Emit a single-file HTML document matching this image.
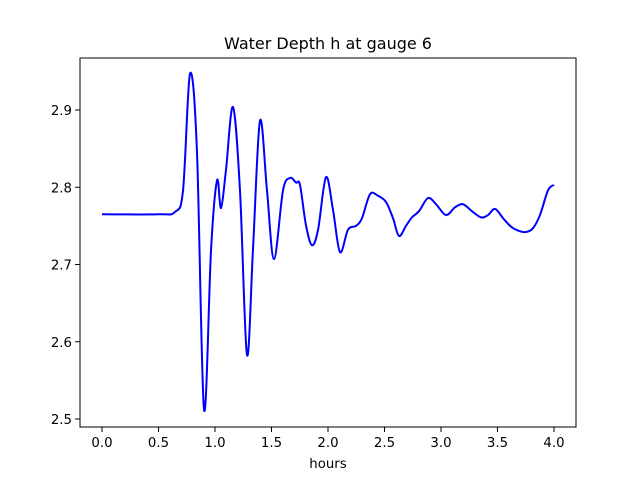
<!DOCTYPE html>
<html><head><meta charset="utf-8"><style>body{margin:0;background:#fff}svg{display:block;font-family:"DejaVu Sans","Liberation Sans",sans-serif}</style></head>
<body>
<svg id="chart" width="640" height="480" viewBox="0 0 640 480" xmlns="http://www.w3.org/2000/svg">
<rect width="640" height="480" fill="#fff"/>
<text x="328" y="49" font-size="16" text-anchor="middle">Water Depth h at gauge 6</text>
<g id="ticks"></g>
<path id="series" fill="none" stroke="#0000ff" stroke-width="2"/>
<rect x="80" y="58" width="496" height="369" fill="none" stroke="#000" stroke-width="1"/>
<text x="328" y="468" font-size="13.3" text-anchor="middle">hours</text>
</svg>
<script>
const xTicks=[0,0.5,1,1.5,2,2.5,3,3.5,4];
const xTickLabels=["0.0","0.5","1.0","1.5","2.0","2.5","3.0","3.5","4.0"];
const yTicks=[2.5,2.6,2.7,2.8,2.9];
const yTickLabels=["2.5","2.6","2.7","2.8","2.9"];
const hours=[0,0.5,0.646,0.717,0.779,0.84,0.903,0.965,1.018,1.053,1.097,1.159,1.221,1.283,1.336,1.398,1.46,1.522,1.602,1.664,1.717,1.752,1.805,1.858,1.912,1.982,2.044,2.106,2.177,2.248,2.301,2.372,2.442,2.513,2.575,2.628,2.69,2.743,2.805,2.885,2.956,3.044,3.124,3.195,3.274,3.354,3.416,3.478,3.549,3.619,3.681,3.752,3.814,3.876,3.947,4.0];
const depth=[2.765,2.765,2.768,2.796,2.947,2.848,2.512,2.719,2.809,2.773,2.822,2.904,2.796,2.583,2.719,2.886,2.796,2.707,2.796,2.812,2.806,2.803,2.751,2.725,2.745,2.813,2.771,2.716,2.745,2.75,2.76,2.791,2.789,2.781,2.76,2.737,2.75,2.761,2.769,2.786,2.778,2.764,2.774,2.778,2.769,2.761,2.764,2.772,2.76,2.749,2.744,2.742,2.747,2.764,2.796,2.803];
const X=v=>102+v*113;
const Y=v=>419-(v-2.5)*772.5;
const NS="http://www.w3.org/2000/svg";
const g=document.getElementById('ticks');
function mk(tag,attrs){const e=document.createElementNS(NS,tag);for(const k in attrs)e.setAttribute(k,attrs[k]);g.appendChild(e);return e;}
xTicks.forEach((t,i)=>{
 const l=mk('line',{x1:X(t),x2:X(t),y1:427,y2:432,stroke:'#000'});
 
 
 const tx=mk('text',{x:X(t),y:447,'font-size':'13.3','text-anchor':'middle'});
 tx.textContent=xTickLabels[i];
 
 
});
yTicks.forEach((t,i)=>{
 const l=mk('line',{x1:75,x2:80,y1:Y(t),y2:Y(t),stroke:'#000'});
 
 
 const tx=mk('text',{x:72,y:Y(t)+5,'font-size':'13.3','text-anchor':'end'});
 tx.textContent=yTickLabels[i];
 
 
});
const P=hours.map((h,i)=>[X(h),Y(depth[i])]);
let d='M'+P[0][0]+','+P[0][1];
for(let i=0;i<P.length-1;i++){
 const p0=P[Math.max(0,i-1)],p1=P[i],p2=P[i+1],p3=P[Math.min(P.length-1,i+2)];
 const c1=[p1[0]+(p2[0]-p0[0])/6,p1[1]+(p2[1]-p0[1])/6];
 const c2=[p2[0]-(p3[0]-p1[0])/6,p2[1]-(p3[1]-p1[1])/6];
 d+=`C${c1[0]},${c1[1]} ${c2[0]},${c2[1]} ${p2[0]},${p2[1]}`;
}
document.getElementById('series').setAttribute('d',d);
</script>
</body></html>
